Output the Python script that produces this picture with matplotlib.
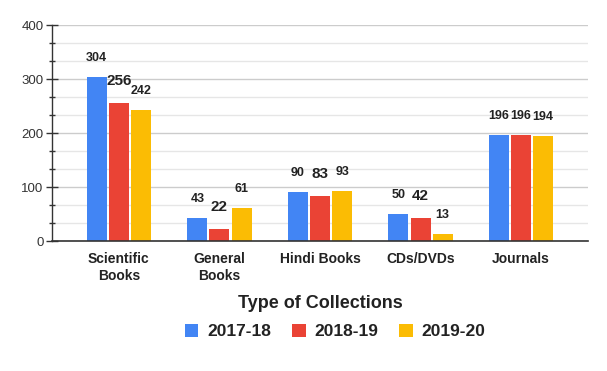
import matplotlib
matplotlib.use("Agg")
import matplotlib.pyplot as plt
import numpy as np
from matplotlib.ticker import MultipleLocator

plt.rcParams['font.family'] = ['Liberation Sans', 'DejaVu Sans']

categories = ["Scientific\nBooks", "General\nBooks", "Hindi Books", "CDs/DVDs", "Journals"]
series_names = ["2017-18", "2018-19", "2019-20"]
v2017 = [304, 43, 90, 50, 196]
v2018 = [256, 22, 83, 42, 196]
v2019 = [242, 61, 93, 13, 194]
x_title = "Type of Collections"

colors = ["#4285F4", "#EA4335", "#FBBC04"]
series = [v2017, v2018, v2019]

fig = plt.figure(figsize=(6.07, 3.71), dpi=100)
ax = fig.add_axes([52/607, 130/371, 536/607, 216/371])

x = np.arange(len(categories))
w = 0.2
offs = [-0.22, 0.0, 0.22]
for i, (vals, c, name) in enumerate(zip(series, colors, series_names)):
    bars = ax.bar(x + offs[i], vals, width=w, color=c, label=name, zorder=3)
    for j, (b, v) in enumerate(zip(bars, vals)):
        big = (i == 1 and j != 4)
        fs = 11 if big else 9
        dy = 16 if big else 13.7
        ax.annotate(str(v), (b.get_x() + b.get_width()/2, v), xytext=(0, dy),
                    textcoords='offset points', ha='center', va='center',
                    fontsize=fs, fontweight='bold', color='#222222', zorder=4)

ax.set_xlim(-0.665, 4.665)
ax.set_ylim(0, 400)
ax.yaxis.set_major_locator(MultipleLocator(100))
ax.yaxis.set_minor_locator(MultipleLocator(100/3))
ax.grid(axis='y', which='major', color='#cccccc', linewidth=1, zorder=0)
ax.grid(axis='y', which='minor', color='#e6e6e6', linewidth=1, zorder=0)
ax.set_axisbelow(True)

for s in ['top', 'right']:
    ax.spines[s].set_visible(False)
ax.spines['left'].set_color('#333333')
ax.spines['bottom'].set_color('#333333')
ax.spines['left'].set_linewidth(1)
ax.spines['bottom'].set_linewidth(1.2)
ax.spines['bottom'].set_zorder(5)

ax.tick_params(axis='y', which='major', direction='inout', length=8, width=1,
               color='#333333', labelsize=9.5, labelcolor='#333333', pad=2)
ax.tick_params(axis='y', which='minor', direction='inout', length=4, width=1,
               color='#333333')
ax.tick_params(axis='x', length=0, pad=8)
ax.set_xticks(x)
ax.set_xticklabels(categories, fontsize=10, fontweight='bold', color='#222222',
                   linespacing=1.3)

ax.set_xlabel(x_title, fontsize=13, fontweight='bold', color='#222222', labelpad=8)

leg = ax.legend(loc='upper center', bbox_to_anchor=((335-52)/536, -0.31),
                ncol=3, frameon=False, prop={'size': 12.5, 'weight': 'bold'},
                handlelength=0.8, handleheight=0.8, handletextpad=0.5,
                columnspacing=1.2, labelcolor='#222222')

fig.savefig("out.png", dpi=100, facecolor='white')
